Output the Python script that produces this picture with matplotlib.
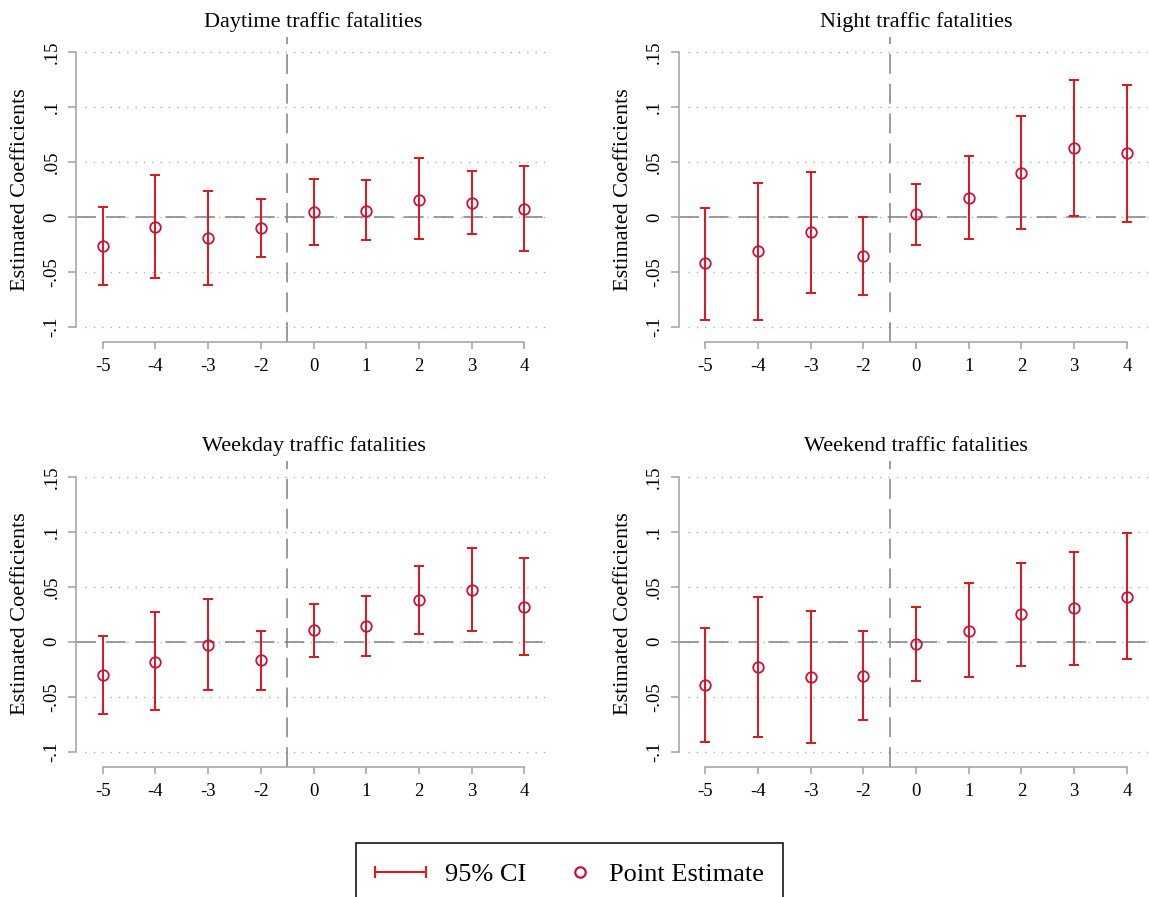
import matplotlib
matplotlib.use("Agg")
import matplotlib.pyplot as plt
from matplotlib.lines import Line2D
from matplotlib.legend_handler import HandlerBase
import numpy as np

plt.rcParams['font.family'] = ['Liberation Serif', 'DejaVu Serif']

# ---------------- data ----------------
event_labels = ["-5", "-4", "-3", "-2", "0", "1", "2", "3", "4"]

titles = ["Daytime traffic fatalities", "Night traffic fatalities",
          "Weekday traffic fatalities", "Weekend traffic fatalities"]

day_est = [-0.026, -0.009, -0.019, -0.010, 0.005, 0.006, 0.016, 0.013, 0.0076]
day_lo = [-0.0615, -0.055, -0.062, -0.036, -0.025, -0.021, -0.020, -0.015, -0.031]
day_hi = [0.0097, 0.038, 0.024, 0.0167, 0.035, 0.034, 0.054, 0.042, 0.047]

night_est = [-0.042, -0.031, -0.0136, -0.0355, 0.0027, 0.0176, 0.040, 0.063, 0.058]
night_lo = [-0.093, -0.093, -0.069, -0.0706, -0.025, -0.020, -0.011, 0.001, -0.004]
night_hi = [0.008, 0.031, 0.041, 0.0, 0.030, 0.0555, 0.092, 0.125, 0.120]

wkday_est = [-0.030, -0.018, -0.003, -0.017, 0.0106, 0.0145, 0.038, 0.047, 0.032]
wkday_lo = [-0.066, -0.062, -0.044, -0.044, -0.0136, -0.013, 0.0067, 0.010, -0.012]
wkday_hi = [0.005, 0.027, 0.0385, 0.0097, 0.034, 0.042, 0.069, 0.085, 0.076]

wkend_est = [-0.039, -0.023, -0.032, -0.031, -0.002, 0.010, 0.025, 0.031, 0.041]
wkend_lo = [-0.091, -0.087, -0.092, -0.0715, -0.036, -0.032, -0.022, -0.021, -0.016]
wkend_hi = [0.0127, 0.0406, 0.028, 0.0097, 0.032, 0.053, 0.072, 0.082, 0.099]

y_ticks = [-0.1, -0.05, 0.0, 0.05, 0.1, 0.15]
y_ticklabels = ["-.1", "-.05", "0", ".05", ".1", ".15"]

panels = [
    (titles[0], day_est, day_lo, day_hi),
    (titles[1], night_est, night_lo, night_hi),
    (titles[2], wkday_est, wkday_lo, wkday_hi),
    (titles[3], wkend_est, wkend_lo, wkend_hi),
]

# ---------------- style ----------------
CI_COLOR = '#dd1a22'
PT_COLOR = '#c8123e'
AX_GRAY = '#a0a0a0'
REF_GRAY = '#808080'
GRID_GRAY = '#b0b0b0'

W, H = 1149, 897
fig = plt.figure(figsize=(W / 100, H / 100), dpi=100)

ax_w = 474.3 / W
ax_h = 305.8 / H
lefts = [76.4 / W, 678.9 / W]
bottoms = [1 - 342.5 / H, 1 - 767.0 / H]

x = np.arange(len(event_labels))

for i, (title, est, lo, hi) in enumerate(panels):
    r, c = divmod(i, 2)
    ax = fig.add_axes([lefts[c], bottoms[r], ax_w, ax_h])
    est = np.array(est); lo = np.array(lo); hi = np.array(hi)

    ax.set_xlim(-0.5, 8.5)
    ax.set_ylim(-0.1139, 0.1642)

    # dotted grid
    for yt in y_ticks:
        ax.hlines(yt, -0.33, 8.5, colors=GRID_GRAY, linestyles=(0, (1, 5)),
                  linewidth=1.0, zorder=1)
    # reference lines
    ax.axhline(0, color=REF_GRAY, linewidth=1.1, dashes=(13, 6.5), zorder=2)
    ax.axvline(3.5, color=REF_GRAY, linewidth=1.1, dashes=(13, 6.5), zorder=2)

    ax.errorbar(x, est, yerr=[est - lo, hi - est], fmt='none', ecolor=CI_COLOR,
                elinewidth=1.45, capsize=3.6, capthick=1.45, zorder=3)
    ax.plot(x, est, linestyle='none', marker='o', markersize=7.6,
            markerfacecolor='none', markeredgecolor=PT_COLOR,
            markeredgewidth=1.3, zorder=4)

    for s in ['top', 'right']:
        ax.spines[s].set_visible(False)
    ax.spines['left'].set_bounds(-0.1, 0.15)
    ax.spines['bottom'].set_bounds(0, 8)
    for s in ['left', 'bottom']:
        ax.spines[s].set_color(AX_GRAY)
        ax.spines[s].set_linewidth(1.1)

    ax.set_xticks(x)
    ax.set_xticklabels(event_labels)
    ax.set_yticks(y_ticks)
    ax.set_yticklabels(y_ticklabels, rotation=90, va='center')
    ax.tick_params(axis='x', length=5, width=1.1, color=AX_GRAY, pad=6.5,
                   labelsize=13.5)
    ax.tick_params(axis='y', length=5.8, width=1.1, color=AX_GRAY, pad=5.5,
                   labelsize=13.5)

    ax.text(0.5, 1 + 15 / 305.8, title, transform=ax.transAxes,
            ha='center', va='center', fontsize=16)
    ax.text(-55.5 / 474.3, 0.5, "Estimated Coefficients", transform=ax.transAxes,
            ha='center', va='center', rotation=90, fontsize=16)


# ---------------- legend ----------------
class HandlerCI(HandlerBase):
    def create_artists(self, legend, orig_handle, xdescent, ydescent,
                       width, height, fontsize, trans):
        y = height / 2 - ydescent
        x0 = -xdescent
        x1 = -xdescent + width
        cap = 4.3
        kw = dict(color=CI_COLOR, linewidth=1.5, transform=trans,
                  solid_capstyle='butt')
        return [Line2D([x0, x1], [y, y], **kw),
                Line2D([x0, x0], [y - cap, y + cap], **kw),
                Line2D([x1, x1], [y - cap, y + cap], **kw)]


class HandlerPt(HandlerBase):
    def create_artists(self, legend, orig_handle, xdescent, ydescent,
                       width, height, fontsize, trans):
        y = height / 2 - ydescent
        xp = -xdescent + width * 0.81
        return [Line2D([xp], [y], linestyle='none', marker='o', markersize=7.5,
                       markerfacecolor='none', markeredgecolor=PT_COLOR,
                       markeredgewidth=1.6, transform=trans)]


h_ci = Line2D([], [], color=CI_COLOR)
h_pt = Line2D([], [], color=PT_COLOR, marker='o')
leg = fig.legend([h_ci, h_pt], ["95% CI", "Point Estimate"],
                 handler_map={h_ci: HandlerCI(), h_pt: HandlerPt()},
                 loc='upper left', bbox_to_anchor=(356 / W, 1 - 843.3 / H),
                 bbox_transform=fig.transFigure, borderaxespad=0, ncol=2,
                 fontsize=19, frameon=True, fancybox=False, framealpha=1,
                 edgecolor='black', borderpad=0.72, handlelength=1.95,
                 handletextpad=0.72, columnspacing=0.45)
leg.get_frame().set_linewidth(1.1)

fig.savefig("out.png", dpi=100)
